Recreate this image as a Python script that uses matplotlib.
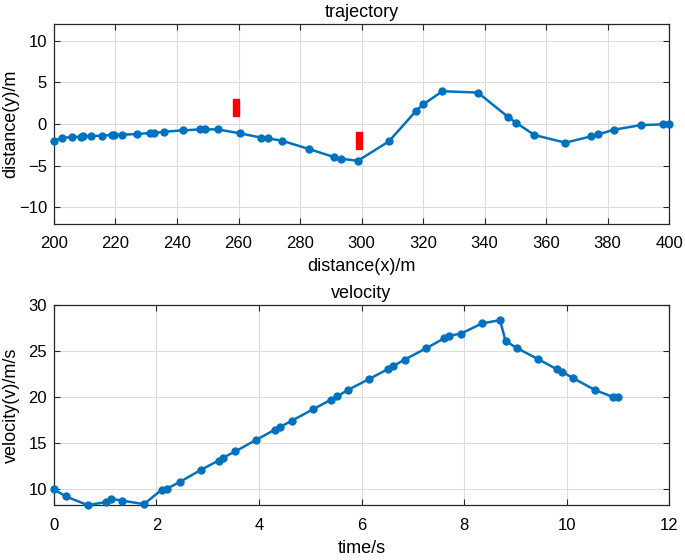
import matplotlib.pyplot as plt
from matplotlib.patches import Rectangle

plt.rcParams.update({
    'font.family': 'Liberation Sans',
    'font.size': 12,
    'axes.linewidth': 0.9,
    'axes.edgecolor': '#262626',
    'xtick.direction': 'in',
    'ytick.direction': 'in',
    'xtick.top': True,
    'ytick.right': True,
    'xtick.major.size': 4,
    'ytick.major.size': 4,
    'xtick.labelsize': 12,
    'ytick.labelsize': 12,
})

# trajectory samples
x_pos = [200, 202.5, 206, 208.8, 209.5, 211.9, 215.5, 218.8, 219.5, 222,
         226.9, 231.2, 232.6, 235.8, 242, 247.5, 249.1, 253.2, 260.6, 267.2,
         269.5, 274.1, 283, 291.1, 293.2, 298.8, 308.9, 317.7, 320.1, 326.3,
         337.8, 347.5, 350.2, 356.2, 366.3, 374.6, 376.9, 382.1, 391, 398.1, 400]
y_pos = [-2.05, -1.64, -1.57, -1.52, -1.48, -1.44, -1.4, -1.32, -1.32, -1.28,
         -1.2, -1.08, -1.08, -0.92, -0.76, -0.64, -0.64, -0.64, -1.12, -1.62,
         -1.72, -2.0, -3.01, -3.97, -4.17, -4.41, -2.08, 1.57, 2.37, 3.94,
         3.78, 0.89, 0.17, -1.32, -2.24, -1.48, -1.24, -0.68, -0.12, -0.04, 0.0]

# obstacles: (x centre, y bottom, y top)
obs_x = [259.2, 299.2]
obs_y0 = [1.0, -3.0]
obs_y1 = [3.0, -1.0]

# velocity samples
t = [0, 0.234, 0.657, 1.015, 1.106, 1.333, 1.756, 2.10, 2.21, 2.45,
     2.86, 3.21, 3.30, 3.54, 3.95, 4.31, 4.41, 4.64, 5.06, 5.40,
     5.52, 5.73, 6.15, 6.51, 6.61, 6.84, 7.26, 7.61, 7.71, 7.94,
     8.35, 8.70, 8.81, 9.04, 9.45, 9.81, 9.91, 10.13, 10.56, 10.90, 11.01]
v = [10.0, 9.24, 8.30, 8.63, 9.0, 8.78, 8.41, 9.96, 10.1, 10.8,
     12.1, 13.14, 13.46, 14.14, 15.4, 16.49, 16.78, 17.46, 18.72, 19.73,
     20.09, 20.78, 22.0, 23.05, 23.37, 24.09, 25.32, 26.4, 26.68, 26.92,
     28.02, 28.38, 26.11, 25.32, 24.13, 23.05, 22.79, 22.07, 20.78, 20.05, 20.05]

blue = '#0072BD'
fig = plt.figure(figsize=(6.85, 5.6), dpi=100)
ax1 = fig.add_axes([0.0788, 0.6, 0.898, 0.357])
ax2 = fig.add_axes([0.0788, 0.098, 0.898, 0.357])

line_kw = dict(color=blue, lw=1.8, marker='o', ms=5, mfc=blue, mec=blue,
               clip_on=False, zorder=3)

ax1.plot(x_pos, y_pos, **line_kw)
for xc, y0, y1 in zip(obs_x, obs_y0, obs_y1):
    ax1.add_patch(Rectangle((xc - 1.0, y0), 2.0, y1 - y0, color='red', zorder=4))
ax1.set_xlim(200, 400)
ax1.set_ylim(-12, 12)
ax1.set_xticks(range(200, 401, 20))
ax1.set_yticks([-10, -5, 0, 5, 10])
ax1.set_title('trajectory', fontsize=13, pad=5)
ax1.set_xlabel('distance(x)/m', fontsize=13, labelpad=5)
ax1.set_ylabel('distance(y)/m', fontsize=13)

ax2.plot(t, v, **line_kw)
ax2.set_xlim(0, 12)
ax2.set_ylim(8.3, 30)
ax2.set_xticks(range(0, 13, 2))
ax2.set_yticks([10, 15, 20, 25, 30])
ax2.set_title('velocity', fontsize=13, pad=5)
ax2.set_xlabel('time/s', fontsize=13, labelpad=5)
ax2.set_ylabel('velocity(v)/m/s', fontsize=13)

for ax in (ax1, ax2):
    ax.grid(True, color='#dcdcdc', lw=0.8)
    ax.set_axisbelow(True)
    ax.tick_params(colors='#262626', labelcolor='black')
    ax.tick_params(axis='x', pad=9)
    ax.tick_params(axis='y', pad=5)
    ax.yaxis.set_label_coords(-0.056, 0.5)

fig.savefig('out.png', dpi=100)
